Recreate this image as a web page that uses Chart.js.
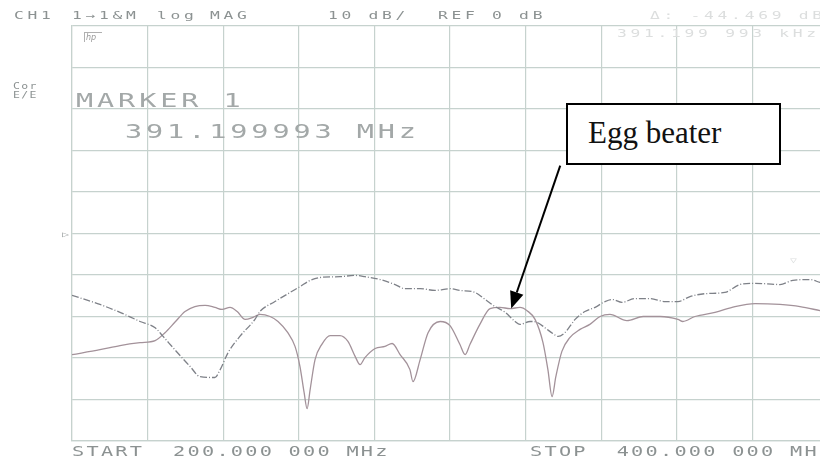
<!DOCTYPE html>
<html>
<head>
<meta charset="utf-8">
<script src="https://cdn.jsdelivr.net/npm/chart.js@4.4.0/dist/chart.umd.min.js"></script>
<style>
  html, body { margin: 0; padding: 0; background: #fff; overflow: hidden; }
  #wrap { position: relative; width: 830px; height: 459px; }
  #plot { position: absolute; left: 0; top: 0; }
  .plt {
    position: absolute;
    font-family: 'DejaVu Sans Mono', monospace;
    white-space: pre;
    transform-origin: 0 50%;
    color: #8c9292;
  }
  .top { font-size: 10.5px; line-height: 10.5px; letter-spacing: 2.4px; transform: scaleX(1.55); top: 10px; }
  .faint { color: #dcdede; }
  .small { font-size: 8.2px; line-height: 8.2px; letter-spacing: 1px; transform: scaleX(1.4); }
  .big { font-size: 19px; line-height: 19px; letter-spacing: 2.6px; transform: scaleX(1.5); color: #a3a8a8; }
  .bottom { font-size: 13.5px; line-height: 13.5px; letter-spacing: 1.5px; transform: scaleX(1.5); top: 445px; }
  #note {
    position: absolute; left: 566px; top: 103px; width: 215px; height: 62px;
    box-sizing: border-box; border: 2px solid #000; background: #fff;
  }
  #noteText {
    position: absolute; left: 588px; top: 117px;
    font-family: 'Liberation Serif', 'Times New Roman', serif;
    font-size: 31px; line-height: 31px; color: #111;
  }
  #hp {
    position: absolute; left: 84px; top: 32px; width: 18px; height: 10px;
    font: italic 8px 'DejaVu Sans', sans-serif; line-height: 10px; color: #9a9a9a;
    border-left: 1px solid #b0b0b0; border-top: 1px solid #b0b0b0; padding-left: 1px; box-sizing: border-box;
  }
</style>
</head>
<body>
<div id="wrap">
  <canvas id="plot" width="830" height="459"></canvas>

  <div class="plt top" style="left:14px">CH1</div>
  <div class="plt top" style="left:72px">1→1&amp;M</div>
  <div class="plt top" style="left:157px">log</div>
  <div class="plt top" style="left:210px">MAG</div>
  <div class="plt top" style="left:328px">10 dB/</div>
  <div class="plt top" style="left:438px">REF 0 dB</div>
  <div class="plt top faint" style="left:650px">Δ: -44.469 dB</div>
  <div class="plt top faint" style="left:617px; top:28px">391.199 993 kHz</div>

  <div class="plt small" style="left:13px; top:82px">Cor</div>
  <div class="plt small" style="left:13px; top:91px">E/E</div>
  <div class="plt small" style="left:62px; top:230px">▷</div>

  <div class="plt big" style="left:76px; top:91px">MARKER 1</div>
  <div class="plt big" style="left:125px; top:122px">391.199993 MHz</div>

  <div class="plt small faint" style="left:790px; top:256px">▽</div>

  <div class="plt bottom" style="left:72px">START  200.000 000 MHz</div>
  <div class="plt bottom" style="left:530px">STOP  400.000 000 MHz</div>

  <div id="hp">hp</div>
  <div id="note"></div>
  <div id="noteText">Egg beater</div>
</div>

<script>
// sweep settings (MHz) and display scale (dB)
const startFreq = 200;
const stopFreq = 400;
const freqPerDiv = 20;
const refLevel = 0;
const dbPerDiv = 10;

// trace 1 (dash-dot)
const freqA = [200.0, 207.4, 212.7, 218.0, 222.0, 224.1, 227.2, 231.2, 233.9, 237.8, 239.2, 241.3,
  244.4, 248.4, 249.7, 253.7, 257.7, 260.3, 263.0, 265.6, 270.9, 274.9, 277.5, 281.5, 285.5,
  288.1, 292.1, 296.0, 300.0, 302.6, 306.6, 309.3, 311.9, 314.6, 317.2, 318.5, 321.2, 323.0,
  325.1, 327.2, 328.6, 330.4, 333.1, 335.7, 338.4, 341.0, 342.9, 345.5, 348.9, 352.9, 356.9,
  360.3, 363.5, 367.5, 372.7, 376.7, 380.7, 387.3, 390.7, 395.2, 397.9, 400.0];
const magA = [-14.9, -17.1, -19.0, -21.2, -22.7, -24.8, -28.0, -32.0, -34.5, -34.7, -32.8, -28.7,
  -24.8, -20.7, -18.8, -16.4, -14.2, -12.8, -11.3, -10.6, -10.4, -10.1, -10.4, -11.1, -12.3,
  -13.3, -13.3, -13.7, -13.3, -13.7, -14.2, -15.9, -17.6, -19.0, -21.2, -21.9, -21.2, -21.4,
  -22.7, -24.1, -24.8, -23.9, -20.7, -18.8, -17.8, -16.4, -15.9, -16.6, -15.7, -15.7, -16.4,
  -16.4, -15.2, -14.5, -14.2, -12.3, -12.0, -12.3, -11.3, -11.1, -11.8, -12.3];

// trace 2 (solid)
const freqB = [200.0, 207.4, 212.7, 218.0, 222.0, 224.6, 227.2, 229.9, 232.5, 235.2, 237.8, 239.7,
  241.8, 243.7, 245.8, 247.9, 249.7, 252.4, 254.5, 257.1, 259.0, 260.3, 261.4, 262.2, 263.0,
  264.3, 266.1, 268.3, 270.9, 273.0, 274.9, 276.2, 277.5, 280.2, 282.8, 284.7, 286.8, 289.4,
  290.2, 292.1, 294.2, 297.4, 300.0, 302.6, 304.0, 305.3, 307.9, 310.6, 313.2, 315.9, 318.5,
  320.4, 322.5, 324.6, 325.9, 327.0, 328.0, 329.6, 331.7, 334.4, 337.0, 339.7, 342.3, 346.8,
  351.1, 355.6, 360.3, 361.6, 364.8, 370.1, 375.4, 380.7, 387.3, 392.6, 397.9, 400.0];
const magB = [-29.2, -28.0, -27.0, -26.3, -25.8, -23.9, -21.4, -18.8, -17.6, -17.3, -17.8, -18.3,
  -17.8, -18.8, -20.7, -20.2, -19.5, -20.0, -21.2, -23.9, -27.2, -32.0, -38.3, -42.2, -37.6,
  -30.4, -26.7, -24.6, -24.6, -26.0, -29.6, -31.6, -29.9, -27.7, -27.2, -26.5, -29.2, -32.8,
  -35.7, -30.4, -23.9, -21.2, -22.2, -26.7, -29.2, -26.7, -21.9, -18.1, -17.8, -18.1, -17.8,
  -18.6, -20.7, -26.3, -32.8, -39.3, -34.5, -28.4, -25.1, -23.1, -21.9, -20.0, -19.5, -21.0,
  -20.0, -20.0, -20.7, -21.2, -20.0, -19.0, -17.6, -16.9, -17.1, -17.6, -18.6, -19.0];

// where the annotation arrow points (MHz, dB)
const arrowTip = [316.2, -18.1];

const gridColor = '#c6d2ce';

const arrowPlugin = {
  id: 'arrow',
  afterDraw(chart) {
    const ctx = chart.ctx;
    const tx = chart.scales.x.getPixelForValue(arrowTip[0]);
    const ty = chart.scales.y.getPixelForValue(arrowTip[1]);
    const sx = tx + 49, sy = ty - 143;
    const ang = Math.atan2(ty - sy, tx - sx);
    const len = 17, half = 7;
    const bx = tx - len * Math.cos(ang), by = ty - len * Math.sin(ang);
    ctx.save();
    ctx.strokeStyle = '#000';
    ctx.fillStyle = '#000';
    ctx.lineWidth = 2;
    ctx.beginPath();
    ctx.moveTo(sx, sy);
    ctx.lineTo(bx, by);
    ctx.stroke();
    ctx.beginPath();
    ctx.moveTo(tx, ty);
    ctx.lineTo(bx + half * Math.sin(ang), by - half * Math.cos(ang));
    ctx.lineTo(bx - half * Math.sin(ang), by + half * Math.cos(ang));
    ctx.closePath();
    ctx.fill();
    ctx.restore();
  }
};

const ctx = document.getElementById('plot').getContext('2d');
const chart = new Chart(ctx, {
  type: 'line',
  data: {
    datasets: [{
      data: freqA.map((f, i) => ({ x: f, y: magA[i] })),
      borderColor: '#7e8188',
      borderWidth: 1.3,
      borderDash: [7, 2, 1, 2],
      pointRadius: 0,
      cubicInterpolationMode: 'monotone'
    }, {
      data: freqB.map((f, i) => ({ x: f, y: magB[i] })),
      borderColor: '#a3929a',
      borderWidth: 1.3,
      pointRadius: 0,
      cubicInterpolationMode: 'monotone'
    }]
  },
  options: {
    responsive: false,
    animation: false,
    layout: { padding: { left: 72, top: 26, right: 2, bottom: 18 } },
    plugins: { legend: { display: false }, tooltip: { enabled: false } },
    scales: {
      x: {
        type: 'linear',
        min: startFreq,
        max: stopFreq,
        ticks: { display: false, stepSize: freqPerDiv },
        grid: { color: gridColor, lineWidth: 1.2, drawTicks: false },
        border: { color: gridColor, width: 1.2 }
      },
      y: {
        min: refLevel - 5 * dbPerDiv,
        max: refLevel + 5 * dbPerDiv,
        ticks: { display: false, stepSize: dbPerDiv },
        grid: { color: gridColor, lineWidth: 1.2, drawTicks: false },
        border: { color: gridColor, width: 1.2 }
      }
    }
  },
  plugins: [arrowPlugin]
});
</script>
</body>
</html>
